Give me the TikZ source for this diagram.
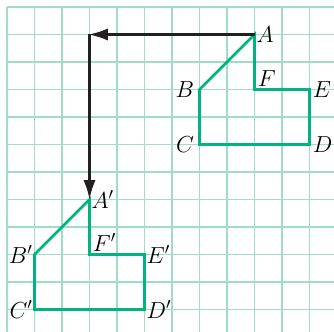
\RequirePackage{fix-cm}
\documentclass[tikz,border=0pt]{standalone}
\usetikzlibrary{arrows.meta}
\definecolor{gridgreen}{RGB}{160,220,198}
\definecolor{shapegreen}{RGB}{0,180,130}
\definecolor{arrowblack}{RGB}{35,31,32}
\begin{document}
\begin{tikzpicture}[every node/.style={font=\fontsize{24}{28}\selectfont},
    fig/.style={shapegreen,line width=2.8pt,line join=miter},
    move/.style={arrowblack,line width=2.4pt,-{Latex[length=7mm,width=4.4mm]}}]
    \useasboundingbox (-0.2545,0.2545) rectangle (11.891,-11.818);
    \clip (-0.2545,0.2545) rectangle (11.891,-11.818);
    \draw[gridgreen,line width=1.3pt] (0,-12) grid (12,0);
    % original figure
    \coordinate (A) at (9,-1);
    \coordinate (B) at (7,-3);
    \coordinate (C) at (7,-5);
    \coordinate (D) at (11,-5);
    \coordinate (E) at (11,-3);
    \coordinate (F) at (9,-3);
    % image after the translation
    \coordinate (A1) at (3,-7);
    \coordinate (B1) at (1,-9);
    \coordinate (C1) at (1,-11);
    \coordinate (D1) at (5,-11);
    \coordinate (E1) at (5,-9);
    \coordinate (F1) at (3,-9);
    \coordinate (turn) at (3,-1);
    \draw[fig] (A) -- (B) -- (C) -- (D) -- (E) -- (F) -- cycle;
    \draw[fig] (A1) -- (B1) -- (C1) -- (D1) -- (E1) -- (F1) -- cycle;
    \draw[move,shorten >=-1pt] (A) -- (turn);
    \draw[move] (turn) -- (A1);
    \node[right,inner sep=2pt] (lA) at (A) {$A$};
    \node[left,xshift=-2pt] (lB) at (B) {$B$};
    \node[left,xshift=-2pt] (lC) at (C) {$C$};
    \node[right] (lD) at (D) {$D$};
    \node[right] (lE) at (E) {$E$};
    \node[above right] (lF) at (F) {$F$};
    \node[right,inner sep=2pt] (lA1) at (A1) {$A'$};
    \node[left,inner sep=2pt] (lB1) at (B1) {$B'$};
    \node[left,inner sep=2pt] (lC1) at (C1) {$C'$};
    \node[right,inner sep=2pt] (lD1) at (D1) {$D'$};
    \node[right,inner sep=2pt] (lE1) at (E1) {$E'$};
    \node[above right] (lF1) at (F1) {$F'$};
\end{tikzpicture}
\end{document}
